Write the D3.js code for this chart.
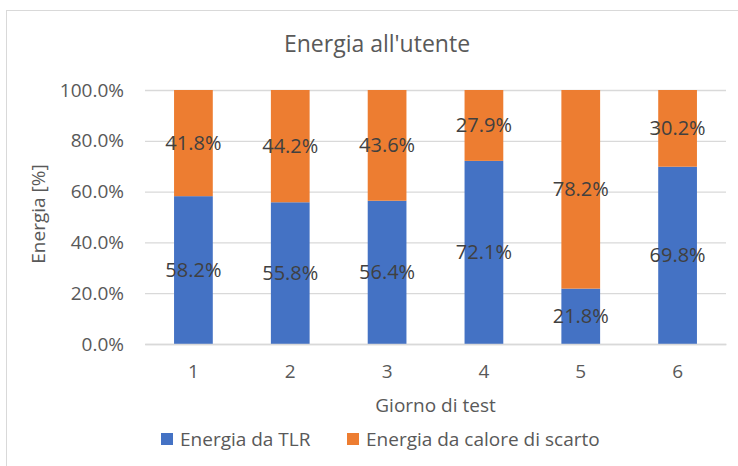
<!DOCTYPE html>
<html>
<head>
<meta charset="utf-8">
<script src="https://cdn.jsdelivr.net/npm/d3@7"></script>
<style>
  body { margin: 0; background: #fff; }
  text { font-family: "Open Sans", "Liberation Sans", sans-serif; }
</style>
</head>
<body>
<svg id="chart" width="738" height="466"></svg>
<script>
const days = ['1', '2', '3', '4', '5', '6'];
const tlr = [58.2, 55.8, 56.4, 72.1, 21.8, 69.8];
const scarto = [41.8, 44.2, 43.6, 27.9, 78.2, 30.2];
const yTicks = [0, 20, 40, 60, 80, 100];
const seriesNames = ['Energia da TLR', 'Energia da calore di scarto'];
const colors = ['#4472c4', '#ed7d31'];

const svg = d3.select('#chart');
const margin = { top: 90, right: 12, bottom: 122, left: 145 };
const width = 738 - margin.left - margin.right;
const height = 466 - margin.top - margin.bottom;

// chart border
svg.append('rect')
  .attr('x', 6.5).attr('y', 10.5)
  .attr('width', 740).attr('height', 470)
  .attr('fill', 'none').attr('stroke', '#d9d9d9');

svg.append('text')
  .attr('x', 377).attr('y', 52)
  .attr('text-anchor', 'middle')
  .attr('font-size', 23)
  .attr('fill', '#595959')
  .text("Energia all'utente");

const g = svg.append('g').attr('transform', `translate(${margin.left},${margin.top})`);

const x = d3.scaleBand().domain(days).range([0, width]).paddingInner(0.6).paddingOuter(0.3);
const y = d3.scaleLinear().domain([0, 100]).range([height, 0]);

// gridlines + y labels
const yAxis = g.append('g')
  .call(d3.axisLeft(y).tickValues(yTicks).tickSize(-width).tickPadding(21)
    .tickFormat((d) => `${d.toFixed(1)}%`));
yAxis.select('.domain').remove();
yAxis.selectAll('line').attr('stroke', '#d9d9d9').attr('stroke-width', 1.3);
yAxis.selectAll('text').attr('font-size', 19).attr('fill', '#595959');

const stackData = days.map((d, i) => ({ day: d, tlr: tlr[i], scarto: scarto[i] }));
const stack = d3.stack().keys(['tlr', 'scarto'])(stackData);

stack.forEach((layer, li) => {
  g.append('g')
    .selectAll('rect')
    .data(layer)
    .join('rect')
    .attr('x', (d) => x(d.data.day))
    .attr('y', (d) => y(d[1]))
    .attr('width', x.bandwidth())
    .attr('height', (d) => y(d[0]) - y(d[1]))
    .attr('fill', colors[li]);
});

stack.forEach((layer) => {
  g.append('g')
    .selectAll('text')
    .data(layer)
    .join('text')
    .attr('x', (d) => x(d.data.day) + x.bandwidth() / 2)
    .attr('y', (d) => y((d[0] + d[1]) / 2))
    .attr('dy', '0.35em')
    .attr('text-anchor', 'middle')
    .attr('font-size', 20)
    .attr('fill', '#404040')
    .text((d) => `${(d[1] - d[0]).toFixed(1)}%`);
});

// x axis
const xAxis = g.append('g')
  .attr('transform', `translate(0,${height})`)
  .call(d3.axisBottom(x).tickSize(0).tickPadding(21));
xAxis.select('.domain').attr('stroke', '#d9d9d9').attr('stroke-width', 1.3);
xAxis.selectAll('text').attr('font-size', 19).attr('fill', '#595959');

svg.append('text')
  .attr('x', margin.left + width / 2).attr('y', 412)
  .attr('text-anchor', 'middle')
  .attr('font-size', 19)
  .attr('fill', '#595959')
  .text('Giorno di test');

svg.append('text')
  .attr('transform', `translate(45,${margin.top + height / 2 - 3}) rotate(-90)`)
  .attr('text-anchor', 'middle')
  .attr('font-size', 19)
  .attr('fill', '#595959')
  .text('Energia [%]');

// legend
const legendX = [161, 347];
const legend = svg.append('g');
seriesNames.forEach((name, i) => {
  legend.append('rect')
    .attr('x', legendX[i]).attr('y', 433)
    .attr('width', 12).attr('height', 12)
    .attr('fill', colors[i]);
  legend.append('text')
    .attr('x', legendX[i] + 19).attr('y', 439)
    .attr('dy', '0.35em')
    .attr('font-size', 19)
    .attr('fill', '#595959')
    .text(name);
});
</script>
</body>
</html>
